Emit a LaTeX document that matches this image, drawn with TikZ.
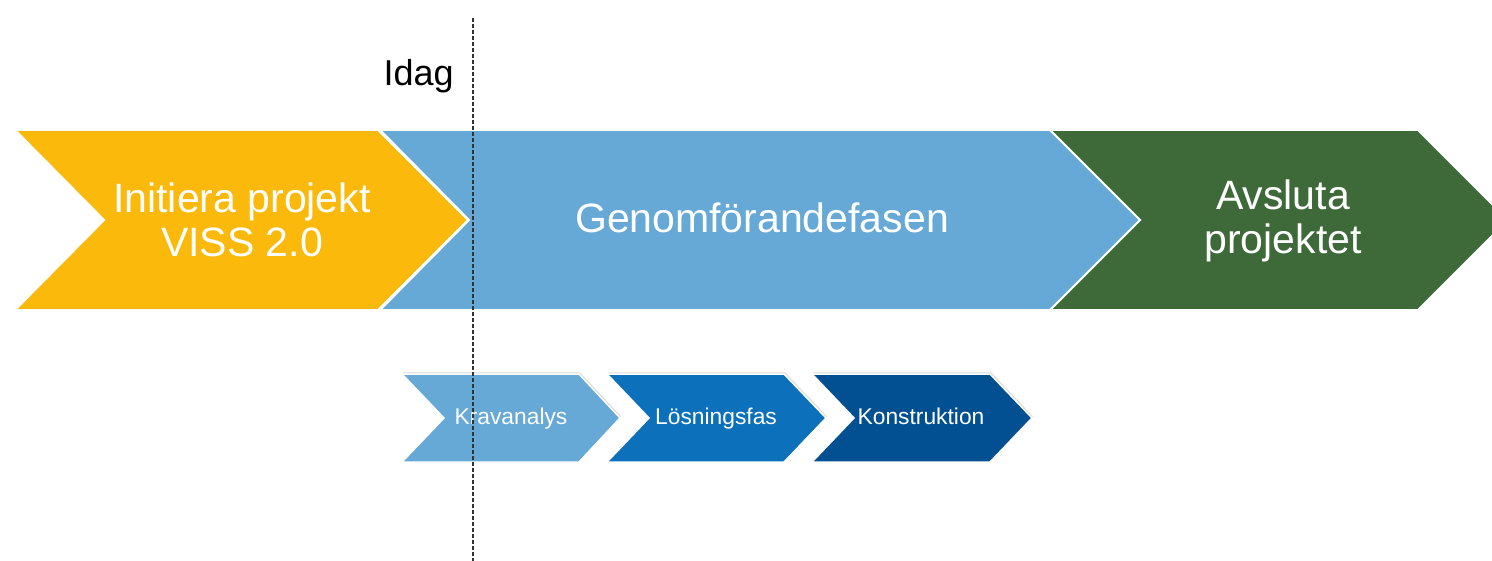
\documentclass[tikz,border=0pt]{standalone}
\usepackage{fontspec}
\setmainfont{Liberation Sans}
\usepackage{tikz}
\usetikzlibrary{shadows}
\definecolor{vissyellow}{RGB}{251,186,11}
\definecolor{vissblue}{RGB}{102,169,214}
\definecolor{vissgreen}{RGB}{62,106,58}
\definecolor{vissmid}{RGB}{12,112,186}
\definecolor{vissdark}{RGB}{2,80,145}
\tikzstyle{phase} = [draw=white, line width=1pt, line join=miter]
\tikzstyle{subphase} = [draw=white, line width=0.75pt, line join=miter, drop shadow={shadow xshift=0.5pt, shadow yshift=0.8pt, opacity=0.3}]
\tikzstyle{phasetext} = [text=white, align=center, inner sep=0pt, font=\fontsize{20.5}{22}\selectfont]
\tikzstyle{subtext} = [text=white, inner sep=0pt, anchor=base, font=\fontsize{11.4}{12}\selectfont]
\tikzstyle{todayline} = [dashed, dash pattern=on 2pt off 1pt, line width=0.8pt, color=black!80]

\begin{document}
\begin{tikzpicture}[x=0.5pt, y=-0.5pt]
    \clip (0,0) rectangle (1492,561);
    \fill[white] (0,0) rectangle (1492,561);

    % Main phases
    \fill[phase, fill=vissgreen] (1050,130) -- (1418,130) -- (1508,220) -- (1418,310) -- (1050,310) -- (1140,220) -- cycle;
    \fill[phase, fill=vissblue] (380,130) -- (1050,130) -- (1140,220) -- (1050,310) -- (380,310) -- (469,220) -- cycle;
    \fill[phase, fill=vissyellow] (15,130) -- (378,130) -- (468,220) -- (378,310) -- (15,310) -- (104,220) -- cycle;

    % Sub phases
    \fill[subphase, fill=vissblue] (402,374) -- (579,374) -- (620,418) -- (579,462) -- (402,462) -- (444,418) -- cycle;
    \fill[subphase, fill=vissmid] (607,374) -- (784,374) -- (826,418) -- (784,462) -- (607,462) -- (649,418) -- cycle;
    \fill[subphase, fill=vissdark] (812,374) -- (990,374) -- (1032,418) -- (990,462) -- (812,462) -- (854,418) -- cycle;

    % Labels
    \node[phasetext] (init) at (242,220) {Initiera projekt\\VISS 2.0};
    \node[phasetext] (genom) at (762,218) {Genomförandefasen};
    \node[phasetext] (avsluta) at (1283,221) {Avsluta\\projektet};
    \node[subtext] (krav) at (511,424) {Kravanalys};
    \node[subtext] (losning) at (716,424) {Lösningsfas};
    \node[subtext] (konstr) at (921,424) {Konstruktion};

    % Today
    \node[inner sep=0pt, anchor=base east, font=\fontsize{18}{20}\selectfont] (idag) at (454,86) {Idag};
    \coordinate (todaytop) at (473,18);
    \coordinate (todaybot) at (473,561);
    \draw[todayline] (todaytop) -- (todaybot);
\end{tikzpicture}
\end{document}
